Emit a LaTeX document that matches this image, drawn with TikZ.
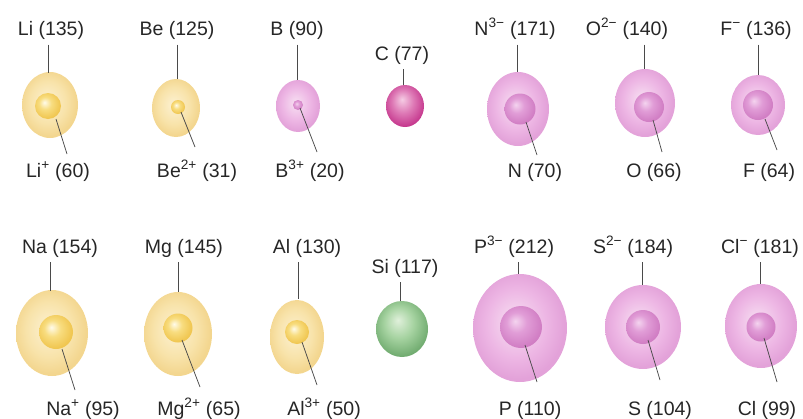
\documentclass[tikz,border=0pt]{standalone}
\usepackage{fontspec}
\setmainfont{Liberation Sans}
\usetikzlibrary{calc}

% sphere colours
\definecolor{yo1}{HTML}{FCF1D2}
\definecolor{yo2}{HTML}{F8E3AA}
\definecolor{yo3}{HTML}{F3D68F}
\definecolor{yi1}{HTML}{FFFBEA}
\definecolor{yi2}{HTML}{F8DD80}
\definecolor{yi3}{HTML}{F0C650}
\definecolor{po1}{HTML}{F7E0F2}
\definecolor{po2}{HTML}{EDB6E4}
\definecolor{po3}{HTML}{E3A2D9}
\definecolor{pi1}{HTML}{F4D4EF}
\definecolor{pi2}{HTML}{E19DD7}
\definecolor{pi3}{HTML}{D17EC4}
\definecolor{c1}{HTML}{F5CCE4}
\definecolor{c2}{HTML}{DE7AB6}
\definecolor{c3}{HTML}{C5378D}
\definecolor{g1}{HTML}{E0F0DB}
\definecolor{g2}{HTML}{A6D3A1}
\definecolor{g3}{HTML}{70AB6F}
\definecolor{leadgray}{HTML}{4A4A4A}

% soft shells and lit inner spheres
\pgfdeclareradialshading{yelout}{\pgfpoint{-3bp}{3bp}}{color(0bp)=(yo1); color(16bp)=(yo2); color(25bp)=(yo3); color(50bp)=(yo3)}
\pgfdeclareradialshading{yelin}{\pgfpoint{-7bp}{7bp}}{color(0bp)=(yi1); color(12bp)=(yi2); color(27bp)=(yi3); color(50bp)=(yi3)}
\pgfdeclareradialshading{pinkout}{\pgfpoint{-3bp}{3bp}}{color(0bp)=(po1); color(16bp)=(po2); color(25bp)=(po3); color(50bp)=(po3)}
\pgfdeclareradialshading{pinkin}{\pgfpoint{-7bp}{7bp}}{color(0bp)=(pi1); color(12bp)=(pi2); color(27bp)=(pi3); color(50bp)=(pi3)}
\pgfdeclareradialshading{carbon}{\pgfpoint{-4bp}{8bp}}{color(0bp)=(c1); color(14bp)=(c2); color(28bp)=(c3); color(50bp)=(c3)}
\pgfdeclareradialshading{silicon}{\pgfpoint{-4bp}{8bp}}{color(0bp)=(g1); color(14bp)=(g2); color(28bp)=(g3); color(50bp)=(g3)}

\newcommand\lblsize{\fontsize{19.5}{23}\selectfont}

\begin{document}
\begin{tikzpicture}[x=1pt,y=-1pt,
  lab/.style={font=\lblsize, anchor=base, inner sep=0pt, text=black!85},
  leader/.style={draw=leadgray, line width=0.75pt},
  toplead/.style={leader, shorten <=5pt}]
\useasboundingbox (0,0) rectangle (803,418);

% ---------- row 1 ----------
% Li
\shade[shading=yelout] (50,105) ellipse [x radius=28pt, y radius=33pt];
\shade[shading=yelin] (48,106) circle [radius=13pt];
\node[lab] (liA) at (51,35.5) {Li (135)};
\node[lab] (liB) at (58,177) {Li\textsuperscript{+} (60)};
\coordinate (liT) at (48,73); \coordinate (liI) at (56,119); \coordinate (liE) at (67,154);
\draw[toplead] (liA.south -| liT) -- (liT);
\draw[leader] (liI) -- (liE);

% Be
\shade[shading=yelout] (176,108) ellipse [x radius=24pt, y radius=29pt];
\shade[shading=yelin] (178,107) circle [radius=7pt];
\node[lab] (beA) at (177,35.5) {Be (125)};
\node[lab] (beB) at (197,177) {Be\textsuperscript{2+} (31)};
\coordinate (beT) at (177,79); \coordinate (beI) at (181,112); \coordinate (beE) at (195,147);
\draw[toplead] (beA.south -| beT) -- (beT);
\draw[leader] (beI) -- (beE);

% B
\shade[shading=pinkout] (298,106) ellipse [x radius=22pt, y radius=26pt];
\shade[shading=pinkin] (298,105) circle [radius=5pt];
\node[lab] (bA) at (297,35.5) {B (90)};
\node[lab] (bB) at (310,177) {B\textsuperscript{3+} (20)};
\coordinate (bT) at (297,80); \coordinate (bI) at (300,108); \coordinate (bE) at (317,152);
\draw[toplead] (bA.south -| bT) -- (bT);
\draw[leader] (bI) -- (bE);

% C
\shade[shading=carbon] (405,106) ellipse [x radius=19pt, y radius=21pt];
\node[lab] (cA) at (402,60) {C (77)};
\coordinate (cT) at (403,85);
\draw[toplead] (cA.south -| cT) -- (cT);

% N
\shade[shading=pinkout] (518,109) ellipse [x radius=31pt, y radius=37pt];
\shade[shading=pinkin] (520,109) circle [radius=15.5pt];
\node[lab] (nA) at (515,35.5) {N\textsuperscript{3−} (171)};
\node[lab] (nB) at (535,177) {N (70)};
\coordinate (nT) at (517,72); \coordinate (nI) at (526,122); \coordinate (nE) at (537,155);
\draw[toplead] (nA.south -| nT) -- (nT);
\draw[leader] (nI) -- (nE);

% O
\shade[shading=pinkout] (645,103) ellipse [x radius=30pt, y radius=34pt];
\shade[shading=pinkin] (649,107) circle [radius=15pt];
\node[lab] (oA) at (627,35.5) {O\textsuperscript{2−} (140)};
\node[lab] (oB) at (654,177) {O (66)};
\coordinate (oT) at (644,69); \coordinate (oI) at (653,120); \coordinate (oE) at (662,152);
\draw[toplead] (oA.south -| oT) -- (oT);
\draw[leader] (oI) -- (oE);

% F
\shade[shading=pinkout] (758,105) ellipse [x radius=27pt, y radius=30pt];
\shade[shading=pinkin] (758,105) circle [radius=15pt];
\node[lab] (fA) at (756,35.5) {F\textsuperscript{−} (136)};
\node[lab] (fB) at (769,177) {F (64)};
\coordinate (fT) at (758,75); \coordinate (fI) at (765,119); \coordinate (fE) at (777,150);
\draw[toplead] (fA.south -| fT) -- (fT);
\draw[leader] (fI) -- (fE);

% ---------- row 2 ----------
% Na
\shade[shading=yelout] (52,333) ellipse [x radius=36pt, y radius=43pt];
\shade[shading=yelin] (56,332) circle [radius=17pt];
\node[lab] (naA) at (60,253) {Na (154)};
\node[lab] (naB) at (83,415) {Na\textsuperscript{+} (95)};
\coordinate (naT) at (50,291); \coordinate (naI) at (62,349); \coordinate (naE) at (75,390);
\draw[toplead] (naA.south -| naT) -- (naT);
\draw[leader] (naI) -- (naE);

% Mg
\shade[shading=yelout] (178,334) ellipse [x radius=34pt, y radius=42pt];
\shade[shading=yelin] (178,328) circle [radius=14.5pt];
\node[lab] (mgA) at (184,253) {Mg (145)};
\node[lab] (mgB) at (199,415) {Mg\textsuperscript{2+} (65)};
\coordinate (mgT) at (178,292); \coordinate (mgI) at (182,340); \coordinate (mgE) at (200,387);
\draw[toplead] (mgA.south -| mgT) -- (mgT);
\draw[leader] (mgI) -- (mgE);

% Al
\shade[shading=yelout] (297,337) ellipse [x radius=27pt, y radius=37pt];
\shade[shading=yelin] (297,332) circle [radius=12pt];
\node[lab] (alA) at (307,253) {Al (130)};
\node[lab] (alB) at (324,415) {Al\textsuperscript{3+} (50)};
\coordinate (alT) at (298,299); \coordinate (alI) at (302,342); \coordinate (alE) at (317,385);
\draw[toplead] (alA.south -| alT) -- (alT);
\draw[leader] (alI) -- (alE);

% Si
\shade[shading=silicon] (402,329) ellipse [x radius=26pt, y radius=28pt];
\node[lab] (siA) at (405,273) {Si (117)};
\coordinate (siT) at (400,301);
\draw[toplead] (siA.south -| siT) -- (siT);

% P
\shade[shading=pinkout] (520,328) ellipse [x radius=47pt, y radius=54pt];
\shade[shading=pinkin] (521,327) circle [radius=21pt];
\node[lab] (pA) at (514,253) {P\textsuperscript{3−} (212)};
\node[lab] (pB) at (530,415) {P (110)};
\coordinate (pT) at (518,274); \coordinate (pI) at (525,345); \coordinate (pE) at (537,382);
\draw[toplead] (pA.south -| pT) -- (pT);
\draw[leader] (pI) -- (pE);

% S
\shade[shading=pinkout] (643,327) ellipse [x radius=38pt, y radius=42pt];
\shade[shading=pinkin] (643,327) circle [radius=17pt];
\node[lab] (sA) at (633,253) {S\textsuperscript{2−} (184)};
\node[lab] (sB) at (660,415) {S (104)};
\coordinate (sT) at (642,285); \coordinate (sI) at (648,340); \coordinate (sE) at (660,380);
\draw[toplead] (sA.south -| sT) -- (sT);
\draw[leader] (sI) -- (sE);

% Cl
\shade[shading=pinkout] (761,326) ellipse [x radius=36pt, y radius=42pt];
\shade[shading=pinkin] (761,327) circle [radius=14.5pt];
\node[lab] (clA) at (760,253) {Cl\textsuperscript{−} (181)};
\node[lab] (clB) at (767,415) {Cl (99)};
\coordinate (clT) at (760,284); \coordinate (clI) at (764,338); \coordinate (clE) at (777,382);
\draw[toplead] (clA.south -| clT) -- (clT);
\draw[leader] (clI) -- (clE);
\end{tikzpicture}
\end{document}
